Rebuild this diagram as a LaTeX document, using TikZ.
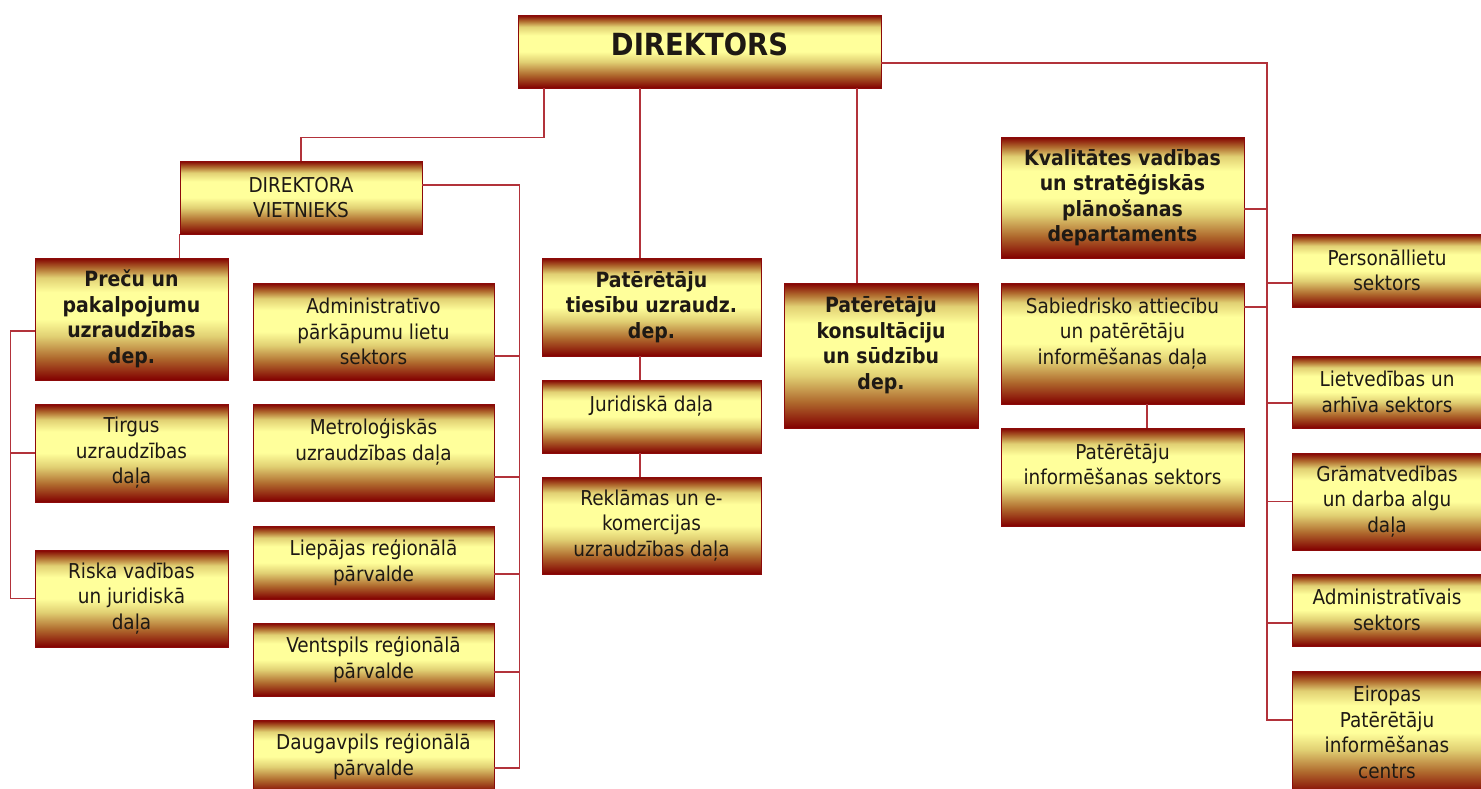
\documentclass[tikz,border=0pt]{standalone}
\usepackage{fontspec}
\setmainfont{DejaVu Sans Condensed}

\definecolor{boxred}{RGB}{130,0,0}
\definecolor{boxbrown}{RGB}{175,105,45}
\definecolor{boxtan}{RGB}{225,208,115}
\definecolor{boxyellow}{RGB}{255,255,155}
\definecolor{boxline}{RGB}{140,10,10}
\definecolor{linkred}{RGB}{178,50,58}
\definecolor{textdark}{RGB}{30,25,20}

\pgfdeclareverticalshading{boxshade}{100bp}{color(0bp)=(boxred); color(25bp)=(boxred); color(34bp)=(boxbrown); color(43bp)=(boxtan); color(50bp)=(boxyellow); color(61bp)=(boxyellow); color(67bp)=(boxtan); color(71bp)=(boxbrown); color(75bp)=(boxred); color(100bp)=(boxred)}

\tikzset{
  box/.style={draw=boxline, line width=0.8pt, shading=boxshade, shade, inner sep=0pt, align=center, text=textdark, font=\fontsize{20.5}{25.5}\selectfont},
  dept/.style={box, font=\bfseries\fontsize{21}{25.5}\selectfont},
  link/.style={draw=linkred, line width=1.4pt}
}

\begin{document}
\begin{tikzpicture}[x=1pt,y=-1pt]
    \useasboundingbox (0,0) rectangle (1481,788);
    \clip (0,0) rectangle (1481,788);

    % Director
    \node[dept, minimum width=363, minimum height=73, font=\bfseries\fontsize{30.5}{34}\selectfont] (dir) at (699.5,51.5) {DIREKTORS\\[-20pt]\mbox{}};

    % Deputy director and its branch
    \node[box, minimum width=242, minimum height=73] (vietn) at (301,197.5) {DIREKTORA\\VIETNIEKS};
    \node[dept, minimum width=193, minimum height=122] (precu) at (131.5,319) {Preču un\\pakalpojumu\\uzraudzības\\dep.};
    \node[box, minimum width=193, minimum height=98] (tirgus) at (131.5,453) {Tirgus\\uzraudzības\\daļa};
    \node[box, minimum width=193, minimum height=97] (riska) at (131.5,598.5) {Riska vadības\\un juridiskā\\daļa};
    \node[box, minimum width=241, minimum height=97] (admin) at (373.5,331.5) {Administratīvo\\pārkāpumu lietu\\sektors};
    \node[box, minimum width=241, minimum height=97] (metro) at (373.5,452.5) {Metroloģiskās\\uzraudzības daļa\\ \mbox{}};
    \node[box, minimum width=241, minimum height=73] (liepaja) at (373.5,562.5) {Liepājas reģionālā\\pārvalde};
    \node[box, minimum width=241, minimum height=73] (ventsp) at (373.5,659.5) {Ventspils reģionālā\\pārvalde};
    \node[box, minimum width=241, minimum height=73] (daugavp) at (373.5,756.5) {Daugavpils reģionālā\\pārvalde};

    % Consumer rights department
    \node[dept, minimum width=219, minimum height=98] (tiesibu) at (651.5,307) {Patērētāju\\tiesību uzraudz.\\dep.};
    \node[box, minimum width=219, minimum height=73] (jurid) at (651.5,416.5) {Juridiskā daļa\\ \mbox{}};
    \node[box, minimum width=219, minimum height=97] (reklam) at (651.5,525.5) {Reklāmas un e-\\komercijas\\uzraudzības daļa};

    % Consultation department
    \node[dept, minimum width=194, minimum height=145] (konsult) at (881,355.5) {Patērētāju\\konsultāciju\\un sūdzību\\dep.\\ \mbox{}};

    % Quality department
    \node[dept, minimum width=243, minimum height=121] (kvalit) at (1122.5,197.5) {Kvalitātes vadības\\un stratēģiskās\\plānošanas\\departaments};
    \node[box, minimum width=243, minimum height=121] (sabiedr) at (1122.5,343.5) {Sabiedrisko attiecību\\un patērētāju\\informēšanas daļa\\ \mbox{}};
    \node[box, minimum width=243, minimum height=98] (patinf) at (1122.5,477) {Patērētāju\\informēšanas sektors\\ \mbox{}};

    % Right column
    \node[box, minimum width=190, minimum height=73] (personal) at (1387,270.5) {Personāllietu\\sektors};
    \node[box, minimum width=190, minimum height=72] (lietved) at (1387,392) {Lietvedības un\\arhīva sektors};
    \node[box, minimum width=190, minimum height=97] (gramat) at (1387,501.5) {Grāmatvedības\\un darba algu\\daļa};
    \node[box, minimum width=190, minimum height=72] (adminsek) at (1387,610) {Administratīvais\\sektors};
    \node[box, minimum width=190, minimum height=123] (eiropas) at (1387,732.5) {Eiropas\\Patērētāju\\informēšanas\\centrs};

    % Lines from director
    \draw[link] ([xshift=-155.5pt]dir.south) -- ++(0,49) -| (vietn.north);
    \draw[link] ([xshift=-11.5pt]tiesibu.north) -- ([xshift=-11.5pt]tiesibu.north |- dir.south);
    \draw[link] ([xshift=-24pt]konsult.north) -- ([xshift=-24pt]konsult.north |- dir.south);
    \coordinate (rbus) at (1267,63);
    \coordinate (eu) at ([yshift=12.5pt]eiropas.west);
    \draw[link] ([yshift=-11.5pt]dir.east) -- (rbus) |- (eu);

    % Right bus branches
    \draw[link] ([yshift=-11.5pt]kvalit.east) -- ++(23,0);
    \draw[link] ([yshift=36.5pt]sabiedr.east) -- ++(23,0);
    \draw[link] ([yshift=-12.5pt]personal.west) -- ++(-25,0);
    \draw[link] ([yshift=-11pt]lietved.west) -- ++(-25,0);
    \draw[link] (gramat.west) -- ++(-25,0);
    \draw[link] ([yshift=-13pt]adminsek.west) -- ++(-25,0);
    \draw[link] ([xshift=24.5pt]sabiedr.south) -- ([xshift=24.5pt]patinf.north);

    % Deputy director branches
    \draw[link] ([yshift=12.5pt]vietn.east) -- ++(97,0) |- ([yshift=-11.5pt]daugavp.east);
    \draw[link] ([yshift=-24.5pt]admin.east) -- ++(25,0);
    \draw[link] ([yshift=-24.5pt]metro.east) -- ++(25,0);
    \draw[link] ([yshift=-11.5pt]liepaja.east) -- ++(25,0);
    \draw[link] ([yshift=-12.5pt]ventsp.east) -- ++(25,0);
    \draw[link] (vietn.south west) -- (vietn.south west |- precu.north);
    \draw[link] ([yshift=-12pt]precu.west) -- ++(-24,0) |- (riska.west);
    \draw[link] (tirgus.west) -- ++(-24,0);

    % Consumer rights sub-units
    \draw[link] ([xshift=-11.5pt]tiesibu.south) -- ([xshift=-11.5pt]jurid.north);
    \draw[link] ([xshift=-11.5pt]jurid.south) -- ([xshift=-11.5pt]reklam.north);
\end{tikzpicture}
\end{document}
